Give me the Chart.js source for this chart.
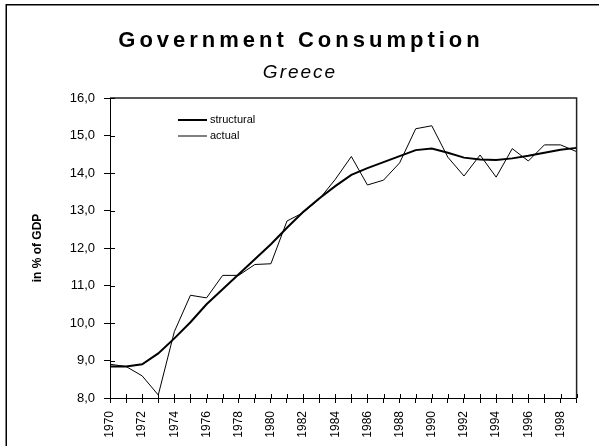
<!DOCTYPE html>
<html>
<head>
<meta charset="utf-8">
<script src="https://cdn.jsdelivr.net/npm/chart.js@4.4.1/dist/chart.umd.min.js"></script>
<style>
  html, body { margin: 0; padding: 0; background: #fff; }
  #wrap { width: 599px; height: 446px; }
</style>
</head>
<body>
<div id="wrap"><canvas id="chart" width="599" height="446"></canvas></div>
<script>
const years = [
  "1970", "1971", "1972", "1973", "1974", "1975", "1976", "1977", "1978", "1979",
  "1980", "1981", "1982", "1983", "1984", "1985", "1986", "1987", "1988", "1989",
  "1990", "1991", "1992", "1993", "1994", "1995", "1996", "1997", "1998", "1999",
];
const structural = [
  8.84, 8.84, 8.9, 9.19, 9.59, 10.02, 10.5, 10.9, 11.3, 11.7,
  12.1, 12.54, 12.96, 13.32, 13.65, 13.95, 14.13, 14.29, 14.45, 14.61,
  14.65, 14.54, 14.41, 14.36, 14.35, 14.39, 14.46, 14.54, 14.62, 14.67,
];
const actual = [
  8.9, 8.84, 8.59, 8.08, 9.77, 10.74, 10.67, 11.27, 11.27, 11.56,
  11.58, 12.72, 12.94, 13.3, 13.83, 14.44, 13.68, 13.81, 14.27, 15.18,
  15.26, 14.42, 13.92, 14.48, 13.89, 14.65, 14.32, 14.75, 14.75, 14.57,
];
const yMin = 8;
const yMax = 16;
const yStep = 1;
const titleText = "Government Consumption";
const subtitleText = "Greece";
const yAxisTitle = "in % of GDP";

const FONT = "'Liberation Sans', Arial, sans-serif";

// white page, outer frame, plot frame, ticks crossing the axes, titles, legend
const decorations = {
  id: "decorations",
  beforeDraw(chart) {
    const { ctx, width, height } = chart;
    ctx.save();
    ctx.fillStyle = "#fff";
    ctx.fillRect(0, 0, width, height);
    ctx.restore();
  },
  afterDraw(chart) {
    const { ctx, chartArea: a, scales } = chart;
    const x = scales.x, y = scales.y;
    ctx.save();

    // outer border, only top and left are visible
    ctx.strokeStyle = "#000";
    ctx.lineWidth = 1.5;
    ctx.beginPath();
    ctx.moveTo(6.25, 446);
    ctx.lineTo(6.25, 4.75);
    ctx.lineTo(599, 4.75);
    ctx.stroke();

    // plot frame top + right
    ctx.strokeStyle = "#222";
    ctx.lineWidth = 1.5;
    ctx.beginPath();
    ctx.moveTo(a.left, a.top);
    ctx.lineTo(a.right, a.top);
    ctx.lineTo(a.right, a.bottom);
    ctx.stroke();

    // inner half of the tick marks
    ctx.strokeStyle = "#000";
    ctx.lineWidth = 1;
    ctx.beginPath();
    y.ticks.forEach((t, i) => {
      const py = Math.round(y.getPixelForTick(i)) + 0.5;
      ctx.moveTo(a.left, py);
      ctx.lineTo(a.left + 5, py);
    });
    x.ticks.forEach((t, i) => {
      const px = Math.round(x.getPixelForTick(i)) + 0.5;
      ctx.moveTo(px, a.bottom);
      ctx.lineTo(px, a.bottom - 4);
    });
    ctx.stroke();

    // title and subtitle
    ctx.fillStyle = "#000";
    ctx.textAlign = "center";
    ctx.textBaseline = "alphabetic";
    ctx.font = "bold 22px " + FONT;
    ctx.letterSpacing = "4px";
    ctx.fillText(titleText, 299 + 2, 47);
    ctx.font = "italic 19px " + FONT;
    ctx.letterSpacing = "2px";
    ctx.fillText(subtitleText, 299 + 1, 78);
    ctx.letterSpacing = "0px";

    // legend
    ctx.font = "11px " + FONT;
    ctx.textAlign = "left";
    ctx.textBaseline = "middle";
    chart.data.datasets.forEach((ds, i) => {
      const ly = 120 + i * 16;
      ctx.strokeStyle = ds.borderColor;
      ctx.lineWidth = ds.borderWidth;
      ctx.beginPath();
      ctx.moveTo(178, ly);
      ctx.lineTo(207, ly);
      ctx.stroke();
      ctx.fillText(ds.label, 210, ly);
    });

    ctx.restore();
  },
};

new Chart(document.getElementById("chart"), {
  type: "line",
  data: {
    labels: years,
    datasets: [
      {
        label: "structural",
        data: structural,
        borderColor: "#000",
        borderWidth: 2,
        pointRadius: 0,
        tension: 0,
        fill: false,
      },
      {
        label: "actual",
        data: actual,
        borderColor: "#000",
        borderWidth: 1,
        pointRadius: 0,
        tension: 0,
        fill: false,
      },
    ],
  },
  options: {
    responsive: false,
    animation: false,
    layout: {
      padding: { top: 98, right: 11, bottom: 0, left: 0 },
    },
    plugins: {
      legend: { display: false },
      title: { display: false },
      tooltip: { enabled: false },
    },
    scales: {
      x: {
        offset: false,
        afterFit(scale) {
          scale.height = 48;
        },
        ticks: {
          autoSkip: false,
          minRotation: 90,
          maxRotation: 90,
          padding: 8,
          color: "#000",
          font: { family: FONT, size: 12 },
          callback(value, index) {
            return index % 2 === 0 ? this.getLabelForValue(value) : "";
          },
        },
        grid: {
          drawOnChartArea: false,
          tickLength: 5,
          tickColor: "#000",
          lineWidth: 1,
        },
        border: { display: true, color: "#000", width: 1 },
      },
      y: {
        min: yMin,
        max: yMax,
        afterFit(scale) {
          scale.width = 110;
        },
        ticks: {
          stepSize: yStep,
          padding: 9,
          color: "#000",
          font: { family: FONT, size: 13 },
          callback: (value) => value.toFixed(1).replace(".", ","),
        },
        title: {
          display: true,
          text: yAxisTitle,
          color: "#000",
          font: { family: FONT, size: 12, weight: "bold" },
          padding: { top: 30, bottom: 0 },
        },
        grid: {
          drawOnChartArea: false,
          tickLength: 6,
          tickColor: "#000",
          lineWidth: 1,
        },
        border: { display: true, color: "#000", width: 1 },
      },
    },
  },
  plugins: [decorations],
});
</script>
</body>
</html>
